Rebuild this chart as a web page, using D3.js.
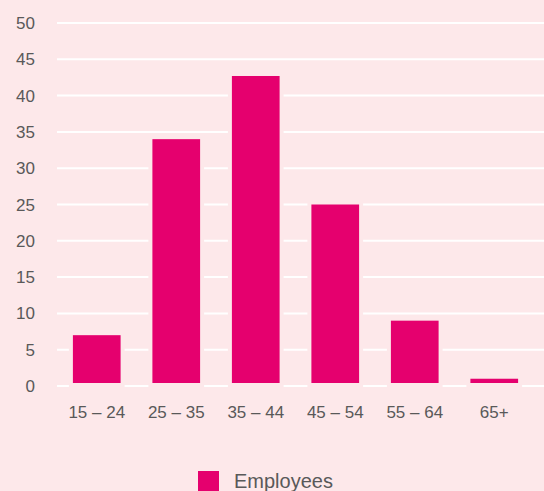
<!DOCTYPE html>
<html>
<head>
<meta charset="utf-8">
<script src="https://cdn.jsdelivr.net/npm/d3@7"></script>
<style>
    html, body { margin: 0; padding: 0; background: #fde8ea; }
    svg { display: block; font-family: "Liberation Sans", Arial, sans-serif; }
</style>
</head>
<body>
<svg id="chart" width="544" height="491"></svg>
<script>
// Data
var ageGroups = ["15 – 24", "25 – 35", "35 – 44", "45 – 54", "55 – 64", "65+"];
var employees = [7, 34, 42.7, 25, 9, 1];
var yTicks = [0, 5, 10, 15, 20, 25, 30, 35, 40, 45, 50];
var seriesName = "Employees";

var style = {
    bg: "#fde8ea",
    bar: "#e5006e",
    text: "#595959",
    grid: "#ffffff"
};

var svg = d3.select("#chart");

var x = d3.scaleBand()
    .domain(ageGroups)
    .range([57, 534])
    .paddingInner(0.4)
    .paddingOuter(0.2);

var y = d3.scaleLinear()
    .domain([0, 50])
    .range([386, 23]);

// Grid lines
svg.append("g")
    .selectAll("line")
    .data(yTicks)
    .enter()
    .append("line")
    .attr("x1", 57)
    .attr("x2", 544)
    .attr("y1", function(d) { return y(d); })
    .attr("y2", function(d) { return y(d); })
    .attr("stroke", style.grid)
    .attr("stroke-width", 2);

// Y axis labels
svg.append("g")
    .selectAll("text")
    .data(yTicks)
    .enter()
    .append("text")
    .attr("x", 35)
    .attr("y", function(d) { return y(d) + 6; })
    .attr("text-anchor", "end")
    .attr("font-size", 17)
    .attr("fill", style.text)
    .text(function(d) { return d; });

// Bars (background stroke cuts the grid around them)
svg.append("g")
    .selectAll("rect")
    .data(employees)
    .enter()
    .append("rect")
    .attr("x", function(d, i) { return x(ageGroups[i]); })
    .attr("width", x.bandwidth())
    .attr("y", function(d) { return y(d); })
    .attr("height", function(d) { return y(0) - 3 - y(d); })
    .attr("fill", style.bar)
    .attr("stroke", style.bg)
    .attr("stroke-width", 8)
    .attr("paint-order", "stroke");

// X axis labels
svg.append("g")
    .selectAll("text")
    .data(ageGroups)
    .enter()
    .append("text")
    .attr("x", function(d) { return x(d) + x.bandwidth() / 2; })
    .attr("y", 418)
    .attr("text-anchor", "middle")
    .attr("font-size", 17)
    .attr("fill", style.text)
    .text(function(d) { return d; });

// Legend
var legend = svg.append("g");
legend.append("rect")
    .attr("x", 198)
    .attr("y", 471)
    .attr("width", 21)
    .attr("height", 21)
    .attr("fill", style.bar);
legend.append("text")
    .attr("x", 234)
    .attr("y", 488)
    .attr("font-size", 20)
    .attr("fill", style.text)
    .text(seriesName);
</script>
</body>
</html>
